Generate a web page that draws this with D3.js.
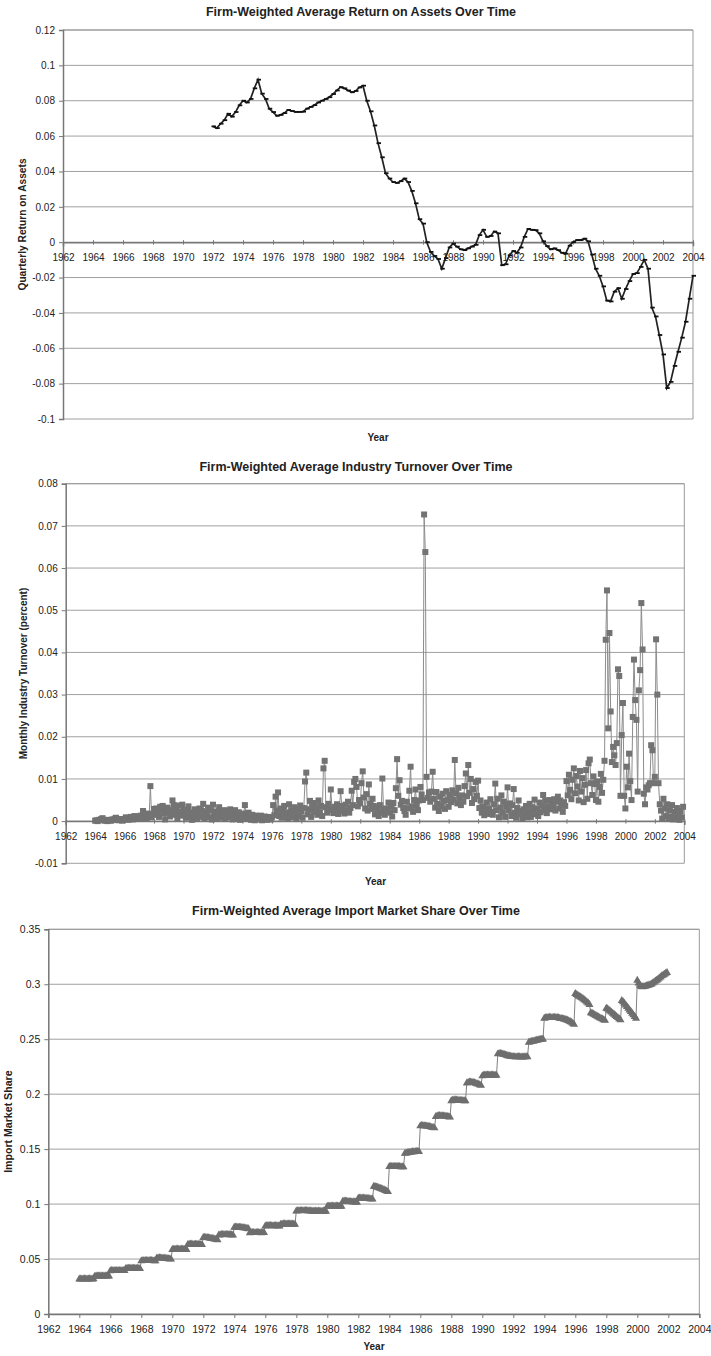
<!DOCTYPE html>
<html>
<head>
<meta charset="utf-8">
<script src="https://cdn.jsdelivr.net/npm/d3@7"></script>
<style>
  body { margin: 0; background: #fff; }
  svg text { font-family: "Liberation Sans", Arial, sans-serif; fill: #222; }
</style>
</head>
<body>
<svg id="viz" width="711" height="1356"></svg>
<script>
// ---- data ----
const yearTicks = d3.range(1962, 2005, 2);

// quarterly ROA, first quarter 1972 .. 2004
const roaStart = 1972;
const roaQuarterly = [
  0.0655, 0.0645, 0.0670, 0.0690,   // 1972
  0.0726, 0.0710, 0.0736, 0.0774,   // 1973
  0.0800, 0.0790, 0.0810, 0.0870,   // 1974
  0.0919, 0.0840, 0.0810, 0.0755,   // 1975
  0.0736, 0.0715, 0.0720, 0.0730,   // 1976
  0.0748, 0.0742, 0.0737, 0.0737,   // 1977
  0.0738, 0.0755, 0.0765, 0.0775,   // 1978
  0.0790, 0.0800, 0.0810, 0.0820,   // 1979
  0.0838, 0.0858, 0.0877, 0.0870,   // 1980
  0.0858, 0.0848, 0.0855, 0.0875,   // 1981
  0.0885, 0.0800, 0.0740, 0.0660,   // 1982
  0.0560, 0.0480, 0.0390, 0.0360,   // 1983
  0.0340, 0.0335, 0.0345, 0.0360,   // 1984
  0.0340, 0.0290, 0.0220, 0.0130,   // 1985
  0.0105, 0.0000, -0.0055, -0.0078, // 1986
  -0.0095, -0.0150, -0.0090, -0.0030, // 1987
  -0.0008, -0.0025, -0.0040, -0.0045, // 1988
  -0.0035, -0.0025, -0.0015, 0.0040,  // 1989
  0.0070, 0.0030, 0.0035, 0.0060,   // 1990
  0.0050, -0.0130, -0.0125, -0.0075, // 1991
  -0.0050, -0.0060, -0.0030, 0.0030, // 1992
  0.0075, 0.0070, 0.0068, 0.0050,   // 1993
  0.0005, -0.0022, -0.0040, -0.0035, // 1994
  -0.0045, -0.0060, -0.0065, -0.0020, // 1995
  0.0000, 0.0012, 0.0012, 0.0020,   // 1996
  0.0005, -0.0070, -0.0150, -0.0190, // 1997
  -0.0250, -0.0330, -0.0335, -0.0280, // 1998
  -0.0260, -0.0320, -0.0265, -0.0220, // 1999
  -0.0180, -0.0175, -0.0140, -0.0100, // 2000
  -0.0150, -0.0370, -0.0420, -0.0525, // 2001
  -0.0635, -0.0825, -0.0790, -0.0700, // 2002
  -0.0620, -0.0540, -0.0450, -0.0320, // 2003
  -0.0190                             // 2004
];
const roaTicks = [0.12, 0.1, 0.08, 0.06, 0.04, 0.02, 0, -0.02, -0.04, -0.06, -0.08, -0.1];

// monthly turnover, in thousandths, Jan 1964 .. Dec 2003
const turnoverStart = 1964;
const turnover1960s = [
  0.1, 0.2, 0.0, 0.3, 0.2, 0.5, 0.7, 0.3, 0.1, 0.2, 0.0, 0.3,   // 1964
  0.2, 0.1, 0.4, 0.3, 0.6, 0.8, 0.4, 0.2, 0.5, 0.3, 0.1, 0.4,   // 1965
  0.5, 0.9, 0.6, 0.3, 0.7, 1.0, 0.8, 0.4, 1.2, 0.6, 0.9, 1.1,   // 1966
  0.8, 1.3, 0.6, 2.4, 1.0, 1.5, 0.7, 1.8, 1.1, 8.3, 0.9, 1.6,   // 1967
  2.9, 1.5, 3.0, 2.2, 1.0, 3.4, 2.5, 3.6, 1.8, 0.4, 2.7, 3.2,   // 1968
  2.0, 1.1, 2.6, 4.9, 3.8, 1.5, 2.4, 0.6, 3.7, 2.2, 1.3, 3.9    // 1969
];
const turnover1970s = [
  2.7, 1.4, 0.8, 2.5, 3.5, 1.0, 2.1, 0.3, 1.6, 2.8, 1.2, 0.5,   // 1970
  1.9, 3.0, 1.0, 2.4, 4.1, 0.7, 2.0, 1.5, 3.2, 0.9, 2.6, 0.4,   // 1971
  3.9, 1.2, 2.3, 0.6, 1.7, 3.3, 0.8, 2.2, 1.4, 2.6, 0.5, 1.1,   // 1972
  2.4, 0.9, 2.8, 1.3, 0.4, 1.9, 2.6, 0.7, 1.5, 2.1, 0.3, 1.0,   // 1973
  0.6, 1.8, 3.8, 1.2, 0.5, 2.0, 1.1, 0.3, 1.5, 0.8, 0.2, 1.3,   // 1974
  0.4, 1.0, 0.6, 1.3, 0.2, 0.8, 1.1, 0.5, 0.3, 1.0, 0.7, 0.4,   // 1975
  0.9, 3.8, 1.4, 5.8, 2.5, 6.8, 1.2, 3.0, 0.8, 2.4, 3.6, 1.0,   // 1976
  2.1, 0.7, 4.0, 1.5, 2.6, 0.9, 3.3, 1.8, 0.5, 2.9, 1.2, 3.7,   // 1977
  2.3, 0.8, 3.1, 9.4, 11.5, 1.6, 2.8, 4.8, 1.0, 3.5, 2.2, 4.3,  // 1978
  3.0, 1.5, 4.9, 2.1, 3.6, 1.2, 12.5, 14.3, 3.3, 2.0, 4.1, 2.7  // 1979
];
const turnover1980s = [
  7.5, 2.8, 1.9, 3.4, 2.2, 4.0, 1.7, 2.9, 7.1, 3.6, 2.4, 1.8,   // 1980
  3.9, 2.5, 4.6, 2.0, 3.1, 7.2, 3.8, 9.3, 10.0, 8.1, 3.5, 5.0,  // 1981
  4.2, 9.0, 11.8, 5.6, 3.0, 6.4, 2.5, 8.7, 4.1, 2.9, 5.3, 3.6,  // 1982
  1.6, 3.3, 2.4, 1.2, 3.8, 2.0, 10.1, 2.7, 1.5, 3.0, 2.2, 4.4,  // 1983
  2.0, 3.5, 1.1, 4.3, 2.6, 7.8, 14.7, 6.0, 9.7, 3.9, 4.8, 3.1,  // 1984
  2.4, 1.5, 4.6, 3.0, 7.2, 12.9, 3.5, 2.2, 5.0, 7.5, 3.8, 2.6,  // 1985
  4.9, 8.1, 6.3, 5.0, 72.7, 63.8, 10.5, 5.5, 6.8, 4.6, 7.0, 11.7, // 1986
  5.3, 3.2, 6.9, 4.1, 2.4, 5.8, 3.6, 6.5, 4.8, 2.9, 7.1, 5.0,   // 1987
  3.4, 6.2, 4.5, 7.3, 5.1, 14.5, 6.6, 4.2, 7.9, 5.4, 3.8, 6.1,  // 1988
  4.6, 8.3, 11.3, 5.9, 13.3, 6.7, 10.0, 4.3, 7.6, 5.2, 9.3, 6.0 // 1989
];
const turnover1990s = [
  9.6, 3.1, 4.9, 2.0, 3.5, 1.4, 2.8, 4.4, 1.7, 3.0, 5.2, 2.2,   // 1990
  1.5, 4.0, 8.9, 2.6, 5.3, 0.9, 3.2, 6.1, 2.1, 4.6, 1.0, 3.5,   // 1991
  8.0, 2.5, 4.2, 1.2, 3.8, 7.6, 2.0, 0.8, 3.1, 4.9, 1.6, 2.4,   // 1992
  0.5, 2.8, 1.4, 3.6, 0.9, 2.2, 4.1, 1.0, 3.3, 2.0, 5.1, 1.6,   // 1993
  3.0, 1.2, 4.4, 2.1, 3.7, 6.2, 2.6, 4.8, 1.9, 3.4, 5.0, 2.8,   // 1994
  4.1, 3.3, 5.2, 2.5, 4.6, 5.8, 3.0, 4.9, 3.9, 2.2, 4.5, 3.6,   // 1995
  9.5, 6.1, 11.0, 7.4, 5.2, 9.8, 12.5, 6.6, 10.7, 8.2, 4.9, 11.9, // 1996
  7.0, 10.2, 4.5, 8.6, 12.1, 5.3, 13.7, 14.6, 9.0, 6.2, 10.6, 8.8, // 1997
  5.0, 9.4, 4.6, 8.1, 11.2, 6.7, 9.8, 14.3, 43.0, 54.7, 22.0, 44.6, // 1998
  26.0, 14.0, 17.6, 15.6, 13.3, 18.5, 36.0, 34.4, 6.0, 20.4, 28.0, 6.0 // 1999
];
const turnover2000s = [
  3.0, 12.9, 8.0, 16.0, 9.5, 5.0, 24.7, 38.3, 28.7, 24.0, 7.0, 31.0,  // 2000
  35.8, 51.7, 40.7, 6.5, 4.0, 8.0, 7.5, 8.5, 9.0, 18.0, 16.8, 9.0,    // 2001
  10.5, 43.1, 30.0, 9.0, 4.0, 2.5, 0.6, 5.3, 3.0, 1.2, 4.0, 0.5,      // 2002
  2.6, 1.0, 3.8, 0.4, 2.2, 0.8, 3.1, 1.5, 0.3, 2.4, 0.9, 3.4          // 2003
];
const turnoverTicks = [0.08, 0.07, 0.06, 0.05, 0.04, 0.03, 0.02, 0.01, 0, -0.01];

// monthly import share, in thousandths, Jan 1964 .. Dec 2001
const importStart = 1964;
const import1960s = [
  31.6, 31.7, 31.8, 31.8, 31.9, 31.8, 31.7, 31.8, 31.9, 31.8, 31.7, 31.8, // 1964
  34.3, 34.4, 34.5, 34.5, 34.6, 34.5, 34.4, 34.5, 34.6, 34.5, 34.4, 34.5, // 1965
  39.2, 39.4, 39.5, 39.4, 39.3, 39.4, 39.5, 39.4, 39.3, 39.4, 39.5, 39.4, // 1966
  41.2, 41.4, 41.5, 41.6, 41.5, 41.4, 41.5, 41.6, 41.5, 41.4, 41.3, 41.2, // 1967
  48.2, 48.4, 48.5, 48.6, 48.5, 48.4, 48.5, 48.6, 48.5, 48.4, 48.3, 48.2, // 1968
  50.8, 50.9, 51.0, 50.9, 50.8, 50.7, 50.6, 50.5, 50.4, 50.2, 50.0, 49.8  // 1969
];
const import1970s = [
  58.5, 58.7, 58.8, 58.9, 58.9, 58.8, 58.8, 58.9, 58.8, 58.7, 58.6, 58.5, // 1970
  63.2, 63.4, 63.5, 63.4, 63.3, 63.2, 63.3, 63.4, 63.3, 63.2, 63.1, 63.0, // 1971
  69.5, 69.6, 69.5, 69.4, 69.2, 69.0, 68.8, 68.6, 68.4, 68.1, 67.8, 67.5, // 1972
  71.8, 72.0, 72.1, 72.2, 72.1, 72.0, 72.1, 72.2, 72.1, 72.0, 71.9, 71.8, // 1973
  78.8, 79.0, 79.0, 78.9, 78.8, 78.7, 78.6, 78.4, 78.2, 78.0, 77.7, 77.4, // 1974
  73.8, 74.0, 74.1, 74.0, 73.9, 74.0, 74.1, 74.0, 73.9, 73.8, 73.9, 74.0, // 1975
  80.0, 80.2, 80.3, 80.4, 80.3, 80.2, 80.1, 80.2, 80.3, 80.2, 80.1, 80.0, // 1976
  81.5, 81.7, 81.8, 81.9, 81.8, 81.7, 81.8, 81.9, 81.8, 81.7, 81.6, 81.5, // 1977
  93.6, 93.8, 93.9, 94.0, 93.9, 93.8, 93.9, 94.0, 93.9, 93.8, 93.7, 93.6, // 1978
  93.6, 93.5, 93.4, 93.5, 93.6, 93.5, 93.4, 93.3, 93.4, 93.5, 93.4, 93.3  // 1979
];
const import1980s = [
  97.8, 98.0, 98.1, 98.2, 98.1, 98.0, 98.1, 98.2, 98.1, 98.0, 97.9, 97.8, // 1980
  102.5, 102.7, 102.6, 102.4, 102.3, 102.2, 102.1, 102.0, 101.9, 101.8, 101.7, 101.6, // 1981
  105.2, 105.4, 105.5, 105.4, 105.3, 105.2, 105.1, 105.0, 104.9, 104.8, 104.6, 104.4, // 1982
  116.0, 115.8, 115.5, 115.1, 114.7, 114.3, 113.8, 113.3, 112.8, 112.3, 111.8, 111.2, // 1983
  134.0, 134.1, 134.2, 134.1, 134.0, 134.1, 134.2, 134.1, 134.0, 133.9, 133.8, 133.7, // 1984
  146.0, 146.3, 146.6, 146.8, 147.0, 147.2, 147.4, 147.5, 147.6, 147.7, 147.8, 147.6, // 1985
  171.0, 171.3, 171.4, 171.2, 171.0, 170.8, 170.6, 170.4, 170.1, 169.8, 169.5, 169.2, // 1986
  179.5, 180.0, 180.3, 180.4, 180.3, 180.2, 180.0, 179.9, 179.7, 179.5, 179.3, 179.0, // 1987
  193.8, 194.3, 194.6, 194.7, 194.6, 194.4, 194.3, 194.2, 194.1, 194.0, 193.9, 193.8, // 1988
  210.0, 210.6, 210.9, 211.0, 210.8, 210.5, 210.2, 209.8, 209.4, 209.0, 208.5, 208.0  // 1989
];
const import1990s = [
  216.5, 217.0, 217.3, 217.4, 217.3, 217.2, 217.3, 217.4, 217.3, 217.2, 217.1, 217.0, // 1990
  236.5, 236.8, 236.9, 236.7, 236.4, 236.0, 235.6, 235.2, 234.9, 234.6, 234.4, 234.2, // 1991
  234.0, 233.9, 233.8, 233.9, 234.0, 233.9, 233.8, 233.7, 233.8, 233.9, 234.0, 233.9, // 1992
  247.0, 247.5, 247.8, 248.0, 248.3, 248.6, 248.9, 249.2, 249.5, 249.7, 249.9, 250.0, // 1993
  269.0, 269.4, 269.6, 269.7, 269.8, 269.7, 269.6, 269.7, 269.8, 269.7, 269.6, 269.4, // 1994
  269.0, 268.8, 268.6, 268.3, 268.0, 267.6, 267.2, 266.6, 266.0, 265.2, 264.4, 263.5, // 1995
  291.5, 290.5, 289.8, 289.0, 288.3, 287.5, 286.7, 285.8, 284.8, 283.8, 282.8, 281.5, // 1996
  274.0, 273.4, 272.8, 272.2, 271.5, 270.8, 270.1, 269.4, 268.8, 268.2, 267.6, 267.0, // 1997
  278.0, 277.5, 276.5, 275.5, 274.5, 273.5, 272.5, 271.5, 270.5, 269.5, 268.5, 267.5, // 1998
  285.0, 284.0, 282.5, 281.0, 279.5, 278.0, 276.5, 275.0, 273.5, 272.0, 270.5, 269.0  // 1999
];
const import2000s = [
  303.5, 301.0, 299.0, 297.8, 297.5, 297.7, 298.0, 298.4, 298.8, 299.2, 299.6, 300.0, // 2000
  301.0, 302.0, 302.8, 303.5, 304.5, 305.5, 306.5, 307.5, 308.3, 309.0, 309.8, 310.5  // 2001
];
const importTicks = [0.35, 0.3, 0.25, 0.2, 0.15, 0.1, 0.05, 0];

// ---- drawing ----
const svg = d3.select('#viz');
const fmt = d => String(+d.toFixed(3));

function drawPanel(opt) {
  const g = svg.append('g');
  const x = d3.scaleLinear().domain([1962, 2004]).range([opt.left, opt.right]);
  const y = d3.scaleLinear().domain(d3.extent(opt.yTicks)).range([opt.bottom, opt.top]);

  // horizontal gridlines
  g.append('g')
    .selectAll('line')
    .data(opt.yTicks)
    .join('line')
    .attr('x1', opt.left)
    .attr('x2', opt.right)
    .attr('y1', d => y(d))
    .attr('y2', d => y(d))
    .attr('stroke', '#a0a0a0')
    .attr('stroke-width', 1);

  // plot border (top + right)
  g.append('path')
    .attr('d', `M${opt.left},${opt.top}H${opt.right}V${opt.bottom}`)
    .attr('fill', 'none')
    .attr('stroke', '#999');

  // y axis
  const ya = g.append('g')
    .attr('transform', `translate(${opt.left},0)`)
    .call(d3.axisLeft(y).tickValues(opt.yTicks).tickFormat(fmt).tickSize(4).tickPadding(4));
  ya.select('.domain').attr('stroke', '#777').attr('stroke-width', 1.5);
  ya.selectAll('.tick line').attr('stroke', '#777');
  ya.selectAll('text').attr('font-size', opt.tickFont).attr('fill', '#222');

  // x axis at zero
  const xa = g.append('g')
    .attr('transform', `translate(0,${y(0)})`)
    .call(d3.axisBottom(x).tickValues(yearTicks).tickFormat(d3.format('d')).tickSize(4));
  xa.select('.domain').attr('stroke', '#777').attr('stroke-width', 1.5);
  xa.selectAll('.tick line').attr('stroke', '#777')
    .attr('y1', opt.crossTicks ? -2 : 0)
    .attr('y2', opt.crossTicks ? 2.5 : 4);
  xa.selectAll('text')
    .attr('font-size', opt.tickFont)
    .attr('fill', '#222')
    .attr('y', 15)
    .attr('dy', '0.35em');

  // titles
  g.append('text')
    .attr('x', opt.titleX)
    .attr('y', opt.titleY)
    .attr('text-anchor', 'middle')
    .attr('font-size', 12.5)
    .attr('font-weight', 'bold')
    .attr('fill', '#111')
    .text(opt.title);
  g.append('text')
    .attr('x', opt.yearX)
    .attr('y', opt.yearY)
    .attr('text-anchor', 'middle')
    .attr('font-size', 10)
    .attr('font-weight', 'bold')
    .text('Year');
  g.append('text')
    .attr('transform', `translate(${opt.yLabelX},${(opt.top + opt.bottom) / 2}) rotate(-90)`)
    .attr('text-anchor', 'middle')
    .attr('dy', '0.35em')
    .attr('font-size', opt.labelFont)
    .attr('font-weight', 'bold')
    .text(opt.yLabel);

  // series
  const line = d3.line().x(d => x(d.t)).y(d => y(d.v));
  g.append('path')
    .datum(opt.data)
    .attr('d', line)
    .attr('fill', 'none')
    .attr('stroke', opt.lineColor)
    .attr('stroke-width', opt.lineWidth);

  opt.marker(g.append('g'), opt.data, x, y);
}

const toSeries = (vals, start, perYear, scale) =>
  vals.map((v, i) => ({ t: start + i / perYear, v: v * scale }));

// 1. Return on assets
drawPanel({
  left: 63, right: 693, top: 30, bottom: 419,
  yTicks: roaTicks, tickFont: 10, labelFont: 10.2, crossTicks: true,
  title: 'Firm-Weighted Average Return on Assets Over Time', titleX: 361, titleY: 15.5,
  yearX: 378, yearY: 441, yLabelX: 22, yLabel: 'Quarterly Return on Assets',
  data: toSeries(roaQuarterly, roaStart, 4, 1),
  lineColor: '#222', lineWidth: 1.7,
  marker: (g, data, x, y) => {
    g.selectAll('path').data(data).join('path')
      .attr('d', d => `M${x(d.t) - 1.5},${y(d.v)}h4.5`)
      .attr('stroke', '#111')
      .attr('stroke-width', 1.8);
  }
});

// 2. Industry turnover
const turnover = [].concat(turnover1960s, turnover1970s, turnover1980s, turnover1990s, turnover2000s);
drawPanel({
  left: 65.7, right: 684.3, top: 483.7, bottom: 863.3,
  yTicks: turnoverTicks, tickFont: 10, labelFont: 10, crossTicks: true,
  title: 'Firm-Weighted Average Industry Turnover Over Time', titleX: 356, titleY: 470.5,
  yearX: 375.5, yearY: 884.5, yLabelX: 23, yLabel: 'Monthly Industry Turnover (percent)',
  data: toSeries(turnover, turnoverStart, 12, 0.001),
  lineColor: '#8c8c8c', lineWidth: 1,
  marker: (g, data, x, y) => {
    g.selectAll('rect').data(data).join('rect')
      .attr('x', d => x(d.t) - 3)
      .attr('y', d => y(d.v) - 3)
      .attr('width', 6)
      .attr('height', 6)
      .attr('fill', '#737373');
  }
});

// 3. Import market share
const imports = [].concat(import1960s, import1970s, import1980s, import1990s, import2000s);
drawPanel({
  left: 48.3, right: 699.3, top: 929.3, bottom: 1314,
  yTicks: importTicks, tickFont: 10.5, labelFont: 10.6, crossTicks: false,
  title: 'Firm-Weighted Average Import Market Share Over Time', titleX: 356, titleY: 914.5,
  yearX: 374, yearY: 1350, yLabelX: 8, yLabel: 'Import Market Share',
  data: toSeries(imports, importStart, 12, 0.001),
  lineColor: '#808080', lineWidth: 1,
  marker: (g, data, x, y) => {
    const tri = d3.symbol(d3.symbolTriangle, 28);
    g.selectAll('path').data(data).join('path')
      .attr('transform', d => `translate(${x(d.t)},${y(d.v)})`)
      .attr('d', tri)
      .attr('fill', '#6e6e6e');
  }
});
</script>
</body>
</html>
